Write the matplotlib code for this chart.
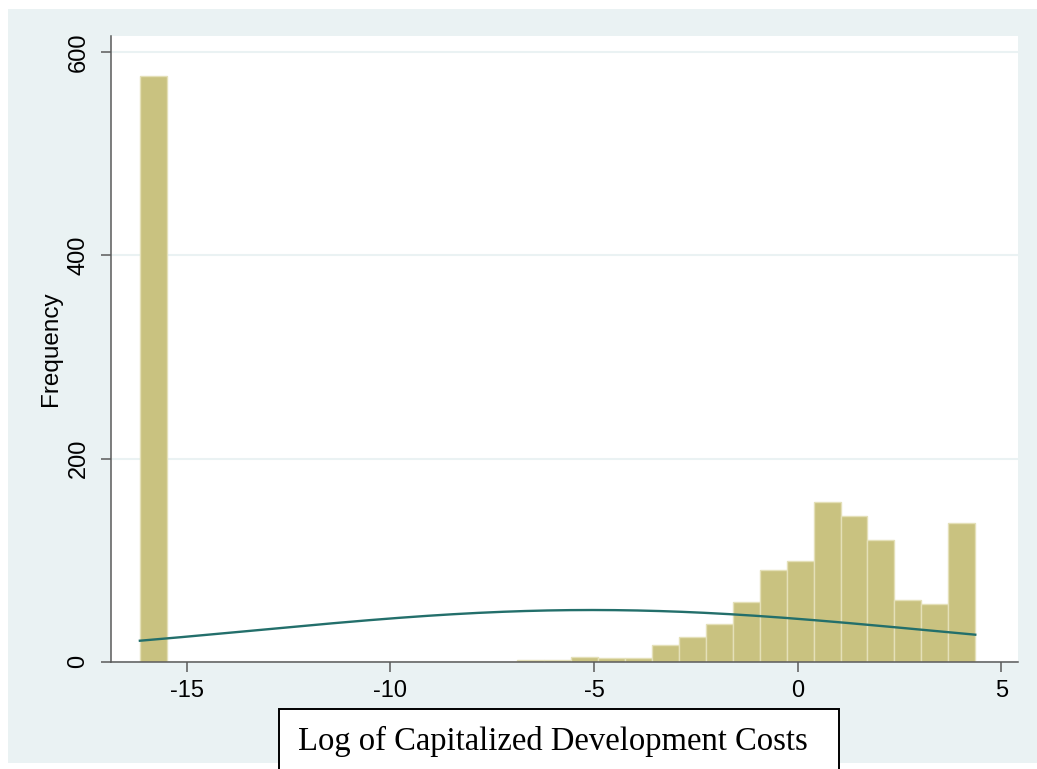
import numpy as np
import matplotlib
matplotlib.use("Agg")
import matplotlib.pyplot as plt
from matplotlib.patches import Rectangle

# --- Histogram bins (31 equal-width bins) ---
bin_lo = -16.15
bin_hi = 4.36
counts = [577, 0, 0, 0, 0, 0, 0, 0, 0, 0, 0, 0, 0, 0,
          2, 2, 5, 4, 4, 16, 24, 37, 59, 90, 99, 157, 143, 120, 61, 57, 137]

x_ticks = [-15, -10, -5, 0, 5]
y_ticks = [0, 200, 400, 600]
y_label = "Frequency"
x_title = "Log of Capitalized Development Costs"

# --- Colours ---
BG = "#EAF2F3"
BAR = "#C9C280"
BAR_EDGE = "#E4E0B8"
LINE = "#236F6B"
AXIS = "#5A5A5A"

counts = np.array(counts, dtype=float)
edges = np.linspace(bin_lo, bin_hi, len(counts) + 1)
width = edges[1] - edges[0]
mids = (edges[:-1] + edges[1:]) / 2

# normal overlay fitted to the binned data, scaled to frequency
n = counts.sum()
mu = np.sum(counts * mids) / n
sd = np.sqrt(np.sum(counts * (mids - mu) ** 2) / n)
xs = np.linspace(bin_lo, bin_hi, 300)
ys = n * width * np.exp(-0.5 * ((xs - mu) / sd) ** 2) / (sd * np.sqrt(2 * np.pi))

fig = plt.figure(figsize=(10.37, 7.69), dpi=100, facecolor="white")
fig.patches.append(Rectangle((0.0077, 0.0078), 1.0, 0.9805, transform=fig.transFigure,
                             facecolor=BG, edgecolor="none", zorder=-10))

ax = fig.add_axes([0.107, 0.1395, 0.8747, 0.8137])
ax.set_facecolor("white")
ax.bar(edges[:-1], counts, width=width, align="edge", color=BAR,
       edgecolor=BAR_EDGE, linewidth=1.0, zorder=2)
ax.plot(xs, ys, color=LINE, linewidth=1.7, zorder=3)

ax.set_xlim(-16.86, 5.41)
ax.set_ylim(0, 616)
ax.set_xticks(x_ticks)
ax.set_yticks(y_ticks)
ax.set_xticklabels([str(t) for t in x_ticks])
ax.set_yticklabels([str(t) for t in y_ticks])
ax.grid(axis="y", color=BG, linewidth=1.5, zorder=0)
ax.set_axisbelow(True)

for side in ["top", "right"]:
    ax.spines[side].set_visible(False)
for side in ["left", "bottom"]:
    ax.spines[side].set_color(AXIS)
    ax.spines[side].set_linewidth(1.1)

ax.tick_params(axis="both", colors=AXIS, length=7.5, width=1.1, labelcolor="black")
ax.tick_params(axis="x", pad=6)
ax.tick_params(axis="y", pad=8)
for lab in ax.get_yticklabels():
    lab.set_rotation(90)
    lab.set_va("center")
    lab.set_family("Liberation Sans")
    lab.set_fontsize(17)
for lab in ax.get_xticklabels():
    lab.set_family("Liberation Sans")
    lab.set_fontsize(17)

ax.set_ylabel(y_label, fontsize=17.5, family="Liberation Sans", labelpad=4)

# boxed axis title below the chart
fig.patches.append(Rectangle((0.269, -0.05), 0.540, 0.128, transform=fig.transFigure,
                             facecolor="white", edgecolor="black", linewidth=1.4, zorder=5))
fig.text(0.2874, 0.0247, x_title, family="Liberation Serif", fontsize=23.5,
         va="baseline", ha="left", zorder=6)

fig.savefig("out.png", dpi=100, facecolor="white")
